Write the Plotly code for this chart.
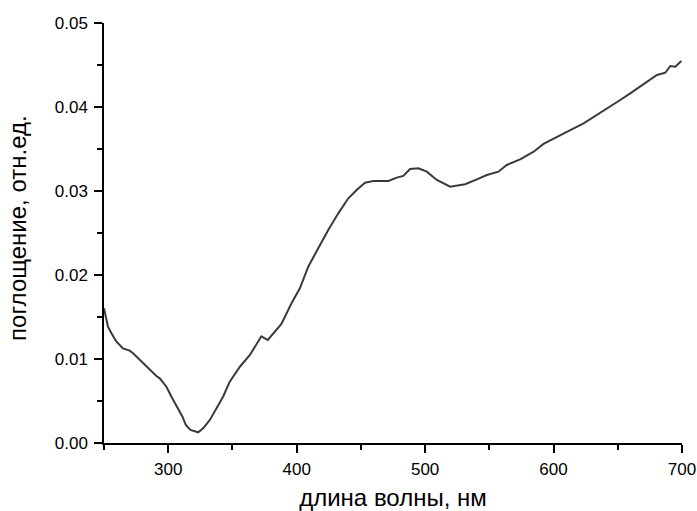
import plotly.graph_objects as go

wavelength = [250, 253.1, 255.8, 259.7, 264.8, 270, 272.6, 277.8, 284.3, 290.8, 293.4, 298.6,
              302.5, 307.7, 311.1, 313.7, 317.3, 323.3, 327.2, 332.4, 337.6, 342.7, 347.9,
              355.8, 363.6, 372.5, 377.5, 388, 392.2, 396.5, 402.5, 409, 416.8, 424.6, 432.4,
              440.2, 446.7, 453.2, 459.7, 471.4, 477.9, 483, 488.3, 494.7, 501.3, 509.1,
              519.5, 531.2, 540.3, 548.1, 557.1, 563.6, 574, 584.5, 592.2, 602.6, 613,
              623.4, 633.8, 644.2, 651.9, 659.7, 670.1, 680.5, 687, 690.9, 694.8, 699.5]
absorbance = [0.01604, 0.01385, 0.01306, 0.01206, 0.01127, 0.01099, 0.01068, 0.00988, 0.00889,
              0.00798, 0.0077, 0.0067, 0.00551, 0.00413, 0.00313, 0.00214, 0.00155, 0.00127,
              0.00175, 0.00274, 0.00413, 0.00551, 0.0073, 0.00908, 0.01048, 0.0127, 0.01226,
              0.01415, 0.01544, 0.0168, 0.01841, 0.02099, 0.02318, 0.02536, 0.02734, 0.02913,
              0.03012, 0.03099, 0.03119, 0.03119, 0.03159, 0.03179, 0.03262, 0.0327, 0.0323,
              0.03131, 0.03051, 0.0308, 0.03139, 0.0319, 0.0323, 0.0331, 0.03377, 0.03468,
              0.0356, 0.03647, 0.03726, 0.03806, 0.03905, 0.04004, 0.04083, 0.04163, 0.04274,
              0.04381, 0.04408, 0.04488, 0.0448, 0.04548]

x_title = "длина волны, нм"
y_title = "поглощение, отн.ед."

font_family = "Arial, 'Liberation Sans', sans-serif"

fig = go.Figure(go.Scatter(x=wavelength, y=absorbance, mode="lines",
                           line=dict(color="#3a3a3a", width=2), showlegend=False))

axis_common = dict(
    showgrid=False, zeroline=False, showline=True, linecolor="black", linewidth=1.5,
    ticks="outside", ticklen=8, tickwidth=1.5, tickcolor="black",
    tickfont=dict(family=font_family, size=17, color="black"),
    mirror=False,
)

fig.update_xaxes(range=[250, 700], tick0=0, dtick=100, ticklabelstandoff=2,
                 minor=dict(dtick=50, tick0=0, ticks="outside", ticklen=5, tickwidth=1.5, tickcolor="black"),
                 title=dict(text=x_title, font=dict(family=font_family, size=24, color="black"), standoff=12),
                 **axis_common)
fig.update_yaxes(range=[0, 0.05], tick0=0, dtick=0.01, tickformat=".2f", ticklabelstandoff=3,
                 minor=dict(dtick=0.005, tick0=0, ticks="outside", ticklen=5, tickwidth=1.5, tickcolor="black"),
                 **axis_common)

fig.add_annotation(text=y_title, xref="paper", yref="paper", x=0, y=0.512,
                   xanchor="center", yanchor="middle", xshift=-86, textangle=-90,
                   showarrow=False, font=dict(family=font_family, size=24, color="black"))

fig.update_layout(
    width=697, height=511,
    margin=dict(l=104, r=15, t=23, b=68, autoexpand=False),
    plot_bgcolor="white", paper_bgcolor="white",
)

fig.write_html("out.html")
